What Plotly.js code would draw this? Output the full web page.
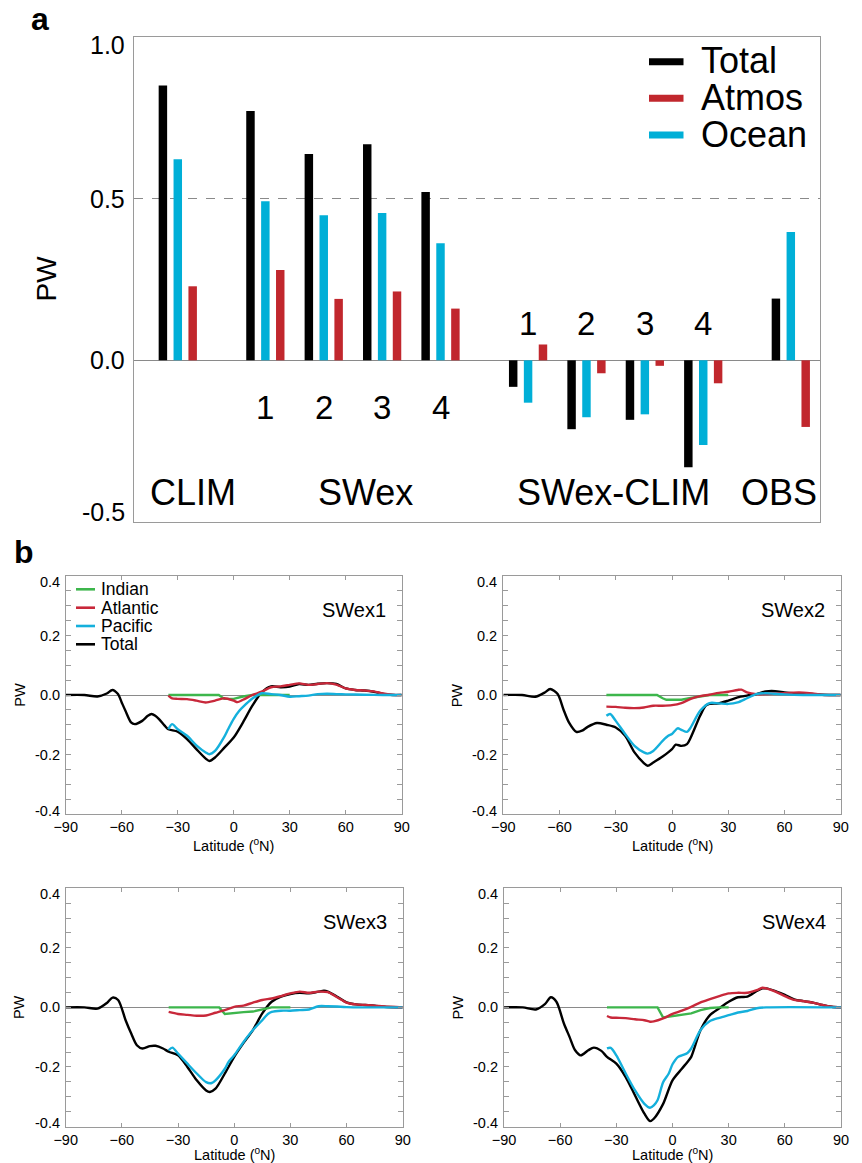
<!DOCTYPE html>
<html><head><meta charset="utf-8">
<script src="https://cdn.plot.ly/plotly-3.0.1.min.js"></script>
<style>html,body{margin:0;padding:0;background:#fff}#chart{width:862px;height:1163px}</style>
</head><body><div id="chart"></div>
<script>
// ---------- Panel a data ----------
const groups = ['CLIM','SWex1','SWex2','SWex3','SWex4','SWex1-CLIM','SWex2-CLIM','SWex3-CLIM','SWex4-CLIM','OBS'];
const totalPW = [0.850, 0.771, 0.638, 0.668, 0.521, -0.082, -0.213, -0.184, -0.331, 0.191];
const oceanPW = [0.622, 0.492, 0.449, 0.456, 0.362, -0.131, -0.176, -0.167, -0.262, 0.397];
const atmosPW = [0.229, 0.279, 0.190, 0.213, 0.160, 0.049, -0.040, -0.017, -0.071, -0.206];
const yTicksA = [-0.5, 0.0, 0.5, 1.0];
const yTickTextA = ['-0.5', '0.0', '0.5', '1.0'];

// ---------- Panel b data (PW vs latitude) ----------
const latTot1 = [-90,-80,-73,-68,-65,-62,-60,-58,-55,-53,-49,-46,-44,-42,-40,-37,-35,-30,-25,-20,-15,-13,-10,-5,0,5,10,15,20,25,30,35,40,45,50,55,60,65,70,75,80,85,90];
const tot1    = [0,0,-0.005,0.005,0.017,0.003,-0.025,-0.053,-0.092,-0.098,-0.087,-0.07,-0.064,-0.07,-0.081,-0.103,-0.115,-0.123,-0.148,-0.182,-0.214,-0.222,-0.21,-0.177,-0.143,-0.092,-0.036,0.009,0.029,0.026,0.028,0.037,0.034,0.038,0.04,0.037,0.022,0.017,0.015,0.011,0.004,0,0];
const latPac1 = [-35,-33,-30,-25,-20,-15,-13,-10,-5,-3,0,3,5,10,15,20,25,30,35,40,45,50,55,60,70,80,90];
const pac1    = [-0.115,-0.098,-0.115,-0.137,-0.169,-0.193,-0.199,-0.188,-0.14,-0.115,-0.08,-0.053,-0.04,-0.012,0.006,0.003,0,-0.006,-0.004,-0.002,0.003,0.004,0.003,0.002,0.001,0,0];
const latAtl1 = [-35,-33,-30,-25,-20,-15,-10,-5,0,2,5,10,15,20,25,30,35,40,45,50,55,60,65,70,75,80,85,90];
const atl1    = [-0.002,-0.011,-0.013,-0.014,-0.019,-0.025,-0.019,-0.011,-0.019,-0.024,-0.016,0,0.011,0.026,0.029,0.034,0.039,0.034,0.037,0.04,0.035,0.022,0.017,0.015,0.012,0.005,0.001,0];
const latInd1 = [-35,-8,-5,0,5,10,30];
const ind1    = [0,0,-0.013,-0.013,-0.005,0,0];

const latTot2 = [-90,-80,-73,-68,-65,-61,-58,-55,-51,-48,-45,-40,-35,-30,-25,-20,-15,-13,-10,-5,0,2,5,8,10,15,18,20,25,30,35,40,45,50,55,60,65,70,80,90];
const tot2    = [0,0,-0.006,0.008,0.02,0.003,-0.047,-0.092,-0.124,-0.12,-0.107,-0.094,-0.1,-0.109,-0.137,-0.193,-0.229,-0.238,-0.227,-0.207,-0.182,-0.167,-0.171,-0.165,-0.143,-0.07,-0.036,-0.03,-0.028,-0.019,-0.008,-0.002,0.003,0.012,0.013,0.009,0.006,0.004,0.001,0];
const latPac2 = [-35,-33,-30,-25,-20,-15,-13,-10,-5,-2,0,3,5,8,10,15,20,25,30,35,40,45,50,55,60,70,90];
const pac2    = [-0.07,-0.064,-0.087,-0.131,-0.171,-0.193,-0.197,-0.188,-0.154,-0.137,-0.131,-0.112,-0.117,-0.124,-0.109,-0.053,-0.027,-0.028,-0.03,-0.025,-0.011,0.003,0.006,0.004,0.002,0,0];
const latAtl2 = [-35,-30,-25,-20,-15,-10,-5,0,5,10,15,20,25,30,35,37,40,45,50,55,60,65,70,75,80,90];
const atl2    = [-0.039,-0.04,-0.043,-0.044,-0.042,-0.036,-0.036,-0.034,-0.027,-0.013,-0.004,0.001,0.007,0.011,0.017,0.018,0.009,0.003,0.003,0.005,0.006,0.008,0.008,0.005,0.001,0];
const latInd2 = [-35,-8,-5,-3,0,5,10,15,20,30];
const ind2    = [0,0,-0.011,-0.016,-0.016,-0.016,-0.01,-0.004,0,0];

const latTot3 = [-90,-80,-73,-68,-65,-62,-58,-55,-52,-49,-45,-42,-38,-35,-30,-25,-20,-15,-13,-10,-5,0,5,10,15,20,25,30,35,40,45,48,50,55,60,65,70,75,80,90];
const tot3    = [0,0,-0.004,0.015,0.033,0.025,-0.043,-0.088,-0.127,-0.138,-0.13,-0.129,-0.138,-0.149,-0.161,-0.2,-0.245,-0.279,-0.284,-0.273,-0.222,-0.166,-0.119,-0.076,-0.02,0.019,0.036,0.045,0.049,0.047,0.053,0.056,0.053,0.036,0.017,0.01,0.008,0.006,0.002,0];
const latPac3 = [-35,-33,-30,-25,-20,-15,-12,-10,-5,-3,0,5,10,15,18,20,25,30,35,40,45,50,55,60,90];
const pac3    = [-0.144,-0.135,-0.155,-0.189,-0.222,-0.251,-0.254,-0.245,-0.206,-0.183,-0.161,-0.116,-0.076,-0.043,-0.022,-0.015,-0.011,-0.011,-0.009,-0.007,0.004,0.004,0.003,0.001,0];
const latAtl3 = [-35,-30,-25,-20,-15,-10,-5,0,5,10,15,20,25,30,35,40,45,50,55,60,65,70,75,80,90];
const atl3    = [-0.015,-0.022,-0.025,-0.028,-0.027,-0.018,-0.009,0.002,0.006,0.016,0.025,0.03,0.038,0.047,0.053,0.049,0.053,0.051,0.034,0.016,0.01,0.008,0.006,0.003,0];
const latInd3 = [-35,-8,-5,0,5,10,15,20,30];
const ind3    = [0,0,-0.022,-0.018,-0.016,-0.014,-0.006,0,0];

const latTot4 = [-90,-80,-73,-68,-65,-62,-58,-55,-52,-49,-45,-42,-38,-35,-30,-25,-20,-15,-12,-10,-5,0,5,8,10,15,20,25,30,35,40,45,48,50,55,60,65,70,75,80,85,90];
const tot4    = [0,0,-0.007,0.012,0.034,0.019,-0.054,-0.099,-0.144,-0.161,-0.144,-0.135,-0.146,-0.166,-0.189,-0.234,-0.296,-0.357,-0.382,-0.374,-0.324,-0.245,-0.206,-0.183,-0.166,-0.076,-0.026,-0.003,0.019,0.034,0.036,0.055,0.064,0.064,0.055,0.042,0.027,0.021,0.016,0.008,0.002,0];
const latPac4 = [-35,-33,-30,-25,-20,-15,-12,-10,-8,-5,-2,0,3,5,8,10,15,20,25,30,35,40,45,50,90];
const pac4    = [-0.138,-0.136,-0.161,-0.222,-0.279,-0.324,-0.337,-0.329,-0.312,-0.251,-0.222,-0.191,-0.166,-0.161,-0.153,-0.138,-0.076,-0.046,-0.035,-0.026,-0.017,-0.012,-0.003,0,0];
const latAtl4 = [-35,-33,-30,-25,-20,-15,-12,-10,-5,0,5,10,15,20,25,30,35,40,45,48,50,55,60,65,70,75,80,85,90];
const atl4    = [-0.029,-0.034,-0.035,-0.036,-0.04,-0.043,-0.048,-0.047,-0.037,-0.022,-0.011,0.002,0.017,0.028,0.038,0.047,0.049,0.049,0.058,0.066,0.064,0.053,0.038,0.025,0.021,0.016,0.008,0.002,0];
const latInd4 = [-35,-8,-5,0,5,10,15,20,25,30];
const ind4    = [0,0,-0.034,-0.029,-0.026,-0.02,-0.009,-0.002,0,0];

const panelNames = ['SWex1','SWex2','SWex3','SWex4'];
const basinNames = ['Indian','Atlantic','Pacific','Total'];
const latTicks = [-90,-60,-30,0,30,60,90];
const pwTicks = [-0.4,-0.2,0,0.2,0.4];
const pwTickText = ['-0.4','-0.2','0.0','0.2','0.4'];

// ---------- layout helpers ----------
const W = 862, H = 1163;
const px = v => v / W, py = v => 1 - v / H;
const FONT = 'Liberation Sans, Arial, Helvetica, sans-serif';
const cBlack = '#000000', cRed = '#c1272d', cCyan = '#00afd7', cGreen = '#3db64c';
const cRedB = '#c8283a', cCyanB = '#14b0dc';
const frameCol = '#9a9a9a';

const groupPos = [0, 1.5, 2.5, 3.5, 4.5, 6, 7, 8, 9, 10.5];
const barW = 0.145, barStep = 0.255;

const traces = [];
traces.push({type:'bar', x: groupPos, y: totalPW, width: barW, offset: -barStep - barW/2,
  marker:{color:cBlack, line:{width:0}}, xaxis:'x', yaxis:'y', showlegend:false, name:'Total', hovertext: groups});
traces.push({type:'bar', x: groupPos, y: oceanPW, width: barW, offset: -barW/2,
  marker:{color:cCyan, line:{width:0}}, xaxis:'x', yaxis:'y', showlegend:false, name:'Ocean', hovertext: groups});
traces.push({type:'bar', x: groupPos, y: atmosPW, width: barW, offset: barStep - barW/2,
  marker:{color:cRed, line:{width:0}}, xaxis:'x', yaxis:'y', showlegend:false, name:'Atmos', hovertext: groups});

const curves = [
  [latTot1, tot1, latInd1, ind1, latAtl1, atl1, latPac1, pac1],
  [latTot2, tot2, latInd2, ind2, latAtl2, atl2, latPac2, pac2],
  [latTot3, tot3, latInd3, ind3, latAtl3, atl3, latPac3, pac3],
  [latTot4, tot4, latInd4, ind4, latAtl4, atl4, latPac4, pac4],
];
curves.forEach((c, i) => {
  const xa = 'x' + (i + 2), ya = 'y' + (i + 2);
  const lw = 2.4;
  traces.push({type:'scatter', mode:'lines', x:c[0], y:c[1], xaxis:xa, yaxis:ya, name:'Total', showlegend:false,
    line:{color:cBlack, width:lw, shape:'spline', smoothing:0.8}});
  traces.push({type:'scatter', mode:'lines', x:c[2], y:c[3], xaxis:xa, yaxis:ya, name:'Indian', showlegend:false,
    line:{color:cGreen, width:lw}});
  traces.push({type:'scatter', mode:'lines', x:c[4], y:c[5], xaxis:xa, yaxis:ya, name:'Atlantic', showlegend:false,
    line:{color:cRedB, width:lw, shape:'spline', smoothing:0.8}});
  traces.push({type:'scatter', mode:'lines', x:c[6], y:c[7], xaxis:xa, yaxis:ya, name:'Pacific', showlegend:false,
    line:{color:cCyanB, width:lw, shape:'spline', smoothing:0.8}});
});

const layout = {
  width: W, height: H, margin:{l:0, r:0, t:0, b:0},
  paper_bgcolor:'#fff', plot_bgcolor:'#fff',
  font:{family:FONT, color:'#000'},
  showlegend:false, barmode:'overlay',
  xaxis:{domain:[px(134), px(820)], range:[-0.75, 11.0], showticklabels:false, ticks:'',
    showline:true, mirror:true, linecolor:frameCol, linewidth:1, showgrid:false, zeroline:false, fixedrange:true},
  yaxis:{domain:[py(522), py(37)], range:[-0.5, 1.0], tickvals:yTicksA, showticklabels:false, ticks:'',
    showline:true, mirror:true, linecolor:frameCol, linewidth:1,
    showgrid:true, gridcolor:'#8a8a8a', griddash:'dash', gridwidth:1,
    zeroline:true, zerolinecolor:'#8a8a8a', zerolinewidth:1, fixedrange:true},
  annotations: [],
  shapes: []
};

// panel a y tick labels (end labels pulled inside the frame, as in the original)
const endShiftA = {'1.0': -8, '-0.5': 10};
yTicksA.forEach((v, k) => {
  layout.annotations.push({xref:'paper', yref:'y', x:px(127), y:v, text:yTickTextA[k], showarrow:false,
    xanchor:'right', yanchor:'middle', yshift: endShiftA[yTickTextA[k]] || 0, font:{size:25, family:FONT}});
});

const bBoxes = [
  {l:65.7, r:401.7, t:576, b:814, tt:30.5, ls:0},
  {l:503.3, r:840.7, t:576, b:814, tt:30.5, ls:0},
  {l:65.7, r:402.7, t:888.3, b:1126.5, tt:27, ls:-1.5},
  {l:504, r:841, t:888.3, b:1126.5, tt:27, ls:-1.5},
];
bBoxes.forEach((bx, i) => {
  const n = i + 2;
  layout['xaxis' + n] = {domain:[px(bx.l), px(bx.r)], range:[-90, 90], anchor:'y' + n,
    tickvals:latTicks, ticks:'inside', ticklen:4, tickcolor:frameCol, tickwidth:1, ticklabelstandoff:bx.ls,
    tickfont:{size:14.5, family:FONT}, showline:true, mirror:'ticks', linecolor:frameCol, linewidth:1,
    showgrid:false, zeroline:false, fixedrange:true};
  layout['yaxis' + n] = {domain:[py(bx.b), py(bx.t)], range:[-0.4, 0.4], anchor:'x' + n,
    tickvals:pwTicks, showticklabels:false, ticks:'inside', ticklen:5, tickcolor:frameCol, tickwidth:1,
    minor:{dtick:0.05, tick0:0, ticks:'inside', ticklen:5, tickcolor:frameCol, showgrid:false},
    showline:true, mirror:'ticks', linecolor:frameCol, linewidth:1,
    showgrid:false, zeroline:true, zerolinecolor:'#8a8a8a', zerolinewidth:1, fixedrange:true};
  // y tick labels
  pwTicks.forEach((v, k) => {
    const sh = (k === pwTicks.length - 1) ? -6 : (k === 0 ? 3.5 : 0);
    layout.annotations.push({xref:'paper', yref:'y' + n, x:px(bx.l - 4), y:v, text:pwTickText[k], showarrow:false,
      xanchor:'right', yanchor:'middle', yshift:sh, font:{size:14.5, family:FONT}});
  });
  // axis titles
  layout.annotations.push({xref:'paper', yref:'paper', x:px((bx.l + bx.r) / 2), y:py(bx.b + bx.tt),
    text:'Latitude (<sup>o</sup>N)', showarrow:false, xanchor:'center', yanchor:'middle', font:{size:14.5, family:FONT}});
  layout.annotations.push({xref:'paper', yref:'paper', x:px(bx.l - 46), y:py((bx.t + bx.b) / 2),
    text:'PW', textangle:-90, showarrow:false, xanchor:'center', yanchor:'middle', font:{size:14.5, family:FONT}});
  layout.annotations.push({xref:'paper', yref:'paper', x:px(bx.r - 13.5), y:py(bx.t + 34),
    text:panelNames[i], showarrow:false, xanchor:'right', yanchor:'middle', font:{size:20, family:FONT}});
});

// panel b legend (inside SWex1)
const legColsB = [cGreen, cRedB, cCyanB, cBlack];
const legRowsB = [589.3, 607.7, 626, 644.3];
basinNames.forEach((nm, k) => {
  layout.shapes.push({type:'line', xref:'paper', yref:'paper', x0:px(76), x1:px(95), y0:py(legRowsB[k]), y1:py(legRowsB[k]),
    line:{color:legColsB[k], width:2.6}});
  layout.annotations.push({xref:'paper', yref:'paper', x:px(99), y:py(legRowsB[k]), text:nm, showarrow:false,
    xanchor:'left', yanchor:'middle', font:{size:17.5, family:FONT}});
});

// panel a legend
const legNamesA = ['Total', 'Atmos', 'Ocean'];
const legColsA = [cBlack, cRed, cCyan];
const legRowsA = [61.7, 98.3, 135];
legNamesA.forEach((nm, k) => {
  layout.shapes.push({type:'line', xref:'paper', yref:'paper', x0:px(649), x1:px(683.5), y0:py(legRowsA[k]), y1:py(legRowsA[k]),
    line:{color:legColsA[k], width:7}});
  layout.annotations.push({xref:'paper', yref:'paper', x:px(699), y:py(legRowsA[k] - 1), text:nm, showarrow:false,
    xanchor:'left', yanchor:'middle', font:{size:36, family:FONT}});
});

// panel a group labels & run numbers
const bigLabels = [['CLIM', 0.255], ['SWex', 3.22], ['SWex-CLIM', 7.46], ['OBS', 10.30]];
bigLabels.forEach(([t, xv]) => {
  layout.annotations.push({xref:'x', yref:'y', x:xv, y:-0.41, text:t, showarrow:false, xanchor:'center', yanchor:'middle',
    font:{size:36, family:FONT}});
});
['1','2','3','4'].forEach((t, k) => {
  layout.annotations.push({xref:'x', yref:'y', x:groupPos[k + 1], y:-0.146, text:t, showarrow:false, xanchor:'center', yanchor:'middle',
    font:{size:33, family:FONT}});
  layout.annotations.push({xref:'x', yref:'y', x:groupPos[k + 5], y:0.115, text:t, showarrow:false, xanchor:'center', yanchor:'middle',
    font:{size:33, family:FONT}});
});
layout.annotations.push({xref:'paper', yref:'paper', x:px(46.5), y:py(279), text:'PW', textangle:-90, showarrow:false,
  xanchor:'center', yanchor:'middle', font:{size:28, family:FONT}});

// panel letters
layout.annotations.push({xref:'paper', yref:'paper', x:px(40), y:py(19), text:'<b>a</b>', showarrow:false,
  xanchor:'center', yanchor:'middle', font:{size:32, family:FONT}});
layout.annotations.push({xref:'paper', yref:'paper', x:px(24), y:py(552), text:'<b>b</b>', showarrow:false,
  xanchor:'center', yanchor:'middle', font:{size:32, family:FONT}});

Plotly.newPlot('chart', traces, layout, {staticPlot:true, displayModeBar:false});
</script></body></html>
